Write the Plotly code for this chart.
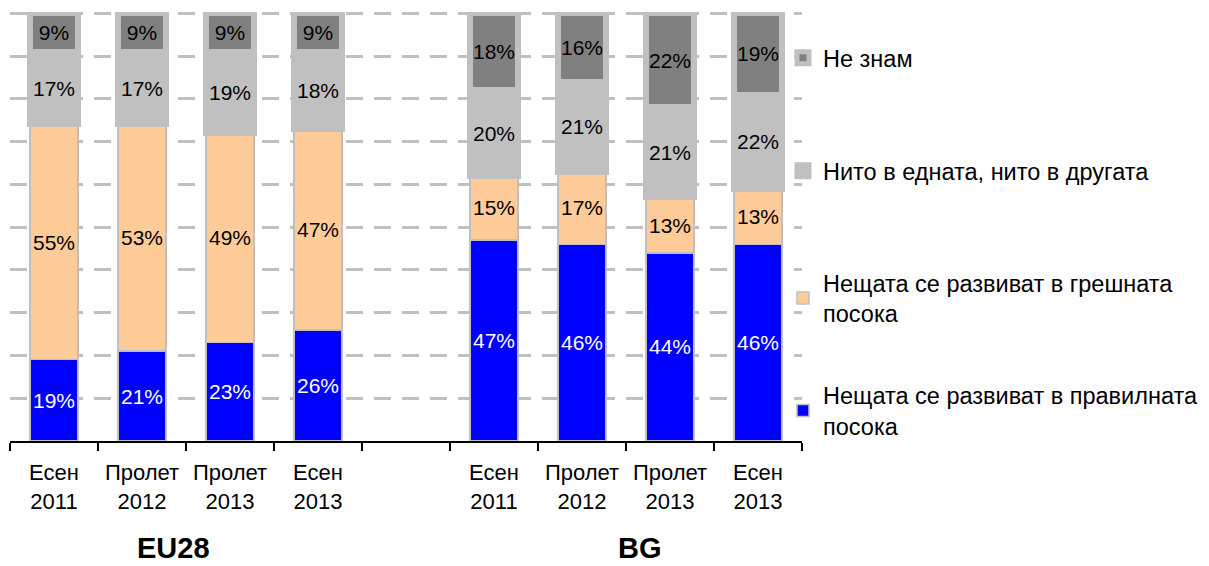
import plotly.graph_objects as go

# ---- data ----
periods = ["Есен<br>2011", "Пролет<br>2012", "Пролет<br>2013", "Есен<br>2013"]
slots = ["EU28 1", "EU28 2", "EU28 3", "EU28 4", "gap", "BG 1", "BG 2", "BG 3", "BG 4"]
tick_text = periods + [""] + periods
group_labels = ["EU28", "BG"]

right_eu = [19, 21, 23, 26]
right_bg = [47, 46, 44, 46]
wrong_eu = [55, 53, 49, 47]
wrong_bg = [15, 17, 13, 13]
neither_eu = [17, 17, 19, 18]
neither_bg = [20, 21, 21, 22]
dk_eu = [9, 9, 9, 9]
dk_bg = [18, 16, 22, 19]

series_names = [
    "Нещата се развиват в правилната<br>посока",
    "Нещата се развиват в грешната<br>посока",
    "Нито в едната, нито в другата",
    "Не знам",
]

FONT = "Arial, 'Liberation Sans', sans-serif"
BORDER = "#C0C0C0"

series = [
    (series_names[0], right_eu + [None] + right_bg, "#0000FF", 1.5, "white", "legend4"),
    (series_names[1], wrong_eu + [None] + wrong_bg, "#FFCC99", 1.5, "black", "legend3"),
    (series_names[2], neither_eu + [None] + neither_bg, "#C0C0C0", 6, "black", "legend2"),
    (series_names[3], dk_eu + [None] + dk_bg, "#808080", 6, "black", "legend"),
]

fig = go.Figure()
for name, vals, color, lw, tcolor, leg in series:
    fig.add_trace(go.Bar(
        x=slots, y=vals, name=name,
        width=0.54,
        marker=dict(color=color, line=dict(color=BORDER, width=lw)),
        texttemplate="%{y}%",
        textposition="inside",
        insidetextanchor="middle",
        textangle=0,
        constraintext="none",
        textfont=dict(size=21, color=tcolor, family=FONT),
        legend=leg,
        showlegend=True,
        hoverinfo="skip",
    ))

# The page body adds an 8px offset; the plot area spans page rows 12..441.
def plot_y(px):
    return (441 - px) / 429.0

leg_x = (783 - 10) / 792.0
leg_common = dict(x=leg_x, xanchor="left", yanchor="middle", visible=True,
                  bgcolor="rgba(0,0,0,0)", font=dict(size=23.5, color="black", family=FONT),
                  itemwidth=30)

fig.update_layout(
    width=1201, height=558,
    margin=dict(l=2, r=407, t=4, b=125, autoexpand=False),
    barmode="stack",
    showlegend=True,
    plot_bgcolor="white", paper_bgcolor="white",
    font=dict(family=FONT, size=21, color="black"),
    xaxis=dict(
        type="category", categoryorder="array", categoryarray=slots,
        tickmode="array", tickvals=slots, ticktext=tick_text,
        tickson="boundaries", ticks="outside", ticklen=8, tickwidth=2, tickcolor="black",
        ticklabelstandoff=11,
        showline=True, linecolor="black", linewidth=2, showgrid=False,
        range=[-0.5, 8.5], tickfont=dict(size=22, color="black", family=FONT),
    ),
    yaxis=dict(
        range=[0, 100.3], tickmode="array", tickvals=list(range(0, 101, 10)),
        showticklabels=False, showgrid=True, gridcolor="#C0C0C0", gridwidth=2.5,
        griddash="17px,11px", zeroline=False, showline=False, ticks="",
    ),
    legend=dict(y=plot_y(58), **leg_common),
    legend2=dict(y=plot_y(171), **leg_common),
    legend3=dict(y=plot_y(298.5), **leg_common),
    legend4=dict(y=plot_y(411), **leg_common),
    annotations=[
        dict(x=1.36, y=plot_y(548), xref="x", yref="paper", yanchor="middle",
             text="<b>%s</b>" % group_labels[0],
             showarrow=False, font=dict(size=29, color="black", family=FONT)),
        dict(x=6.66, y=plot_y(548), xref="x", yref="paper", yanchor="middle",
             text="<b>%s</b>" % group_labels[1],
             showarrow=False, font=dict(size=29, color="black", family=FONT)),
    ],
)

fig.write_html("out.html")
